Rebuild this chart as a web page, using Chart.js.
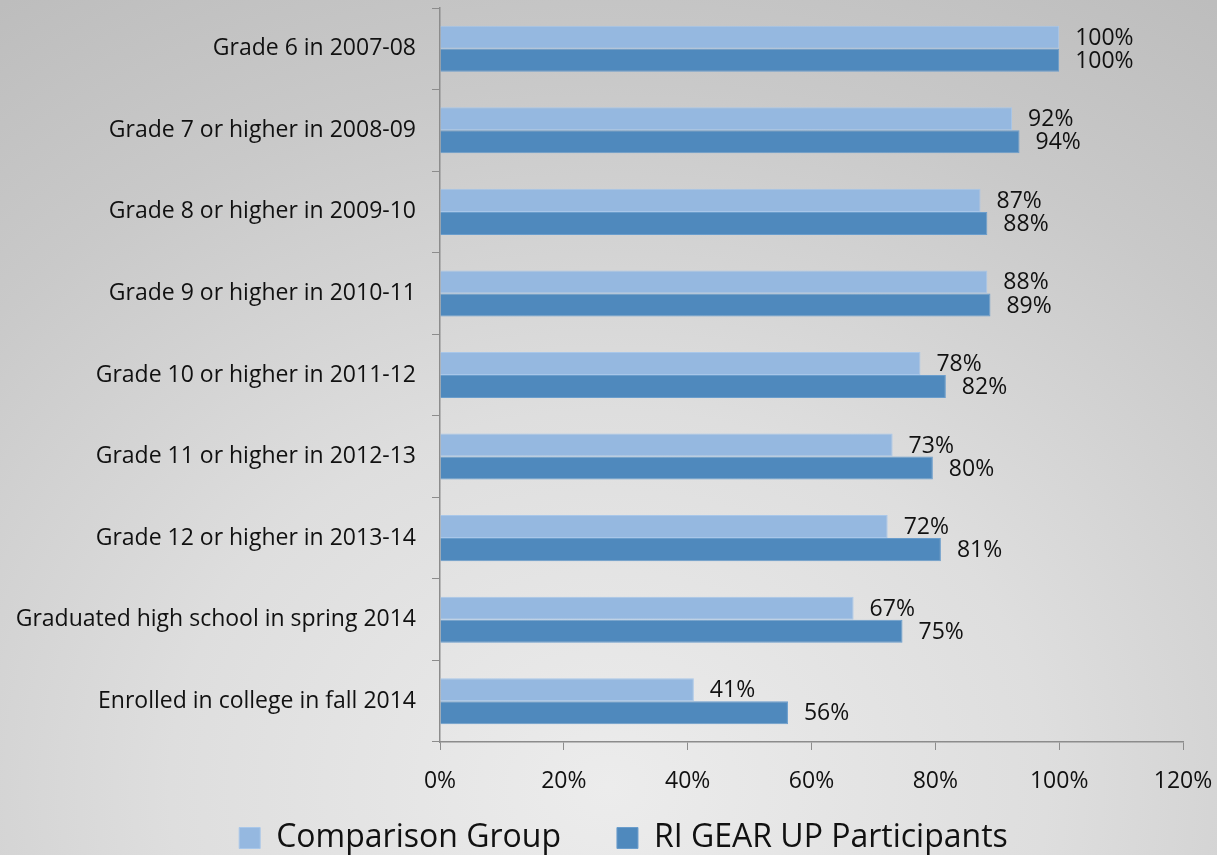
<!DOCTYPE html>
<html lang="en">
<head>
  <meta charset="UTF-8">
  <title>RI GEAR UP Progression</title>
  <script src="https://cdn.jsdelivr.net/npm/chart.js"></script>
  <style>
    html, body {
      margin: 0;
      padding: 0;
    }
    body {
      width: 1217px;
      height: 855px;
      overflow: hidden;
      /* light centre near the bottom, grey towards the corners */
      background: radial-gradient(ellipse 90% 110% at 50% 92%, #ececec 0%, #dedede 40%, #c9c9c9 75%, #bdbdbd 100%);
    }
    #chart-container {
      width: 1217px;
      height: 855px;
    }
  </style>
</head>
<body>
  <div id="chart-container">
    <canvas id="gearChart"></canvas>
  </div>
  <script>
    const categories = [
      'Grade 6 in 2007-08',
      'Grade 7 or higher in 2008-09',
      'Grade 8 or higher in 2009-10',
      'Grade 9 or higher in 2010-11',
      'Grade 10 or higher in 2011-12',
      'Grade 11 or higher in 2012-13',
      'Grade 12 or higher in 2013-14',
      'Graduated high school in spring 2014',
      'Enrolled in college in fall 2014'
    ];
    const comparisonGroup = [100, 92.4, 87.3, 88.4, 77.6, 73.1, 72.3, 66.8, 41.0];
    const gearUpParticipants = [100, 93.6, 88.4, 88.9, 81.7, 79.6, 80.9, 74.7, 56.2];
    const xTicks = [0, 20, 40, 60, 80, 100, 120];

    const FONT = '"Open Sans", sans-serif';

    // simple value labels to the right of each bar
    const barLabels = {
      id: 'barLabels',
      afterDatasetsDraw(chart) {
        const ctx = chart.ctx;
        ctx.save();
        ctx.font = '23px ' + FONT;
        ctx.fillStyle = '#111';
        ctx.textAlign = 'left';
        ctx.textBaseline = 'middle';
        chart.data.datasets.forEach((ds, i) => {
          const meta = chart.getDatasetMeta(i);
          meta.data.forEach((bar, j) => {
            ctx.fillText(Math.round(ds.data[j]) + '%', bar.x + 16, bar.y + 1);
          });
        });
        ctx.restore();
      }
    };

    // the wide item padding also pads the legend vertically, so move it back up
    // (and a little to the right, like the original)
    const legendShift = {
      id: 'legendShift',
      afterLayout(chart) {
        const lg = chart.legend;
        lg.left += 32;
        lg.right += 32;
        lg.top -= 31;
        lg.bottom -= 31;
      }
    };

    const ctx = document.getElementById('gearChart').getContext('2d');
    const gearChart = new Chart(ctx, {
      type: 'bar',
      data: {
        labels: categories,
        datasets: [{
          label: 'Comparison Group',
          data: comparisonGroup,
          backgroundColor: '#95b8e0',
          borderColor: '#a9c7e9',
          borderWidth: 1,
          categoryPercentage: 0.565,
          barPercentage: 1.0
        }, {
          label: 'RI GEAR UP Participants',
          data: gearUpParticipants,
          backgroundColor: '#4f89bd',
          borderColor: '#6a9dcc',
          borderWidth: 1,
          categoryPercentage: 0.565,
          barPercentage: 1.0
        }]
      },
      options: {
        indexAxis: 'y',
        responsive: true,
        maintainAspectRatio: false,
        animation: false,
        layout: {
          padding: { top: 8, right: 34, bottom: -40, left: 0 }
        },
        scales: {
          x: {
            min: 0,
            max: 120,
            afterBuildTicks(scale) {
              scale.ticks = xTicks.map(v => ({ value: v }));
            },
            afterFit(scale) {
              scale.height = 55;
              scale.paddingLeft = 0;
              scale.paddingRight = 0;
            },
            grid: {
              drawOnChartArea: false,
              drawTicks: true,
              tickLength: 8,
              color: '#8c8c8c'
            },
            border: { color: '#8c8c8c', width: 1.5 },
            ticks: {
              color: '#111',
              padding: 18,
              font: { family: FONT, size: 23 },
              callback: v => v + '%'
            }
          },
          y: {
            afterFit(scale) {
              scale.width = 440;
              scale.paddingTop = 0;
              scale.paddingBottom = 0;
            },
            grid: {
              drawOnChartArea: false,
              drawTicks: true,
              tickLength: 8,
              color: '#8c8c8c'
            },
            border: { color: '#8c8c8c', width: 1.5 },
            ticks: {
              color: '#111',
              padding: 16,
              font: { family: FONT, size: 23 }
            }
          }
        },
        plugins: {
          legend: {
            position: 'bottom',
            labels: {
              color: '#111',
              boxWidth: 21,
              boxHeight: 21,
              padding: 56,
              font: { family: FONT, size: 32 }
            }
          },
          tooltip: { enabled: false }
        }
      },
      plugins: [barLabels, legendShift]
    });
  </script>
</body>
</html>
